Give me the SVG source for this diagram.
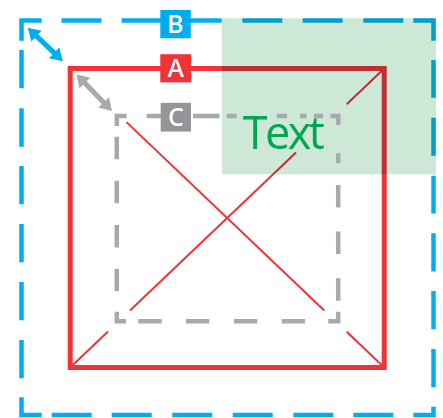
<svg xmlns="http://www.w3.org/2000/svg" width="443" height="418" viewBox="0 0 443 418">
<style>
.blue{fill:none;stroke:#00aeef;stroke-width:4.5;stroke-linecap:butt;stroke-linejoin:miter}
.red{fill:none;stroke:#ef3338;stroke-width:5;stroke-linejoin:miter}
.diag{fill:none;stroke:#ef3338;stroke-width:2}
.gray{fill:none;stroke:#a7a9ac;stroke-width:4.5;stroke-linecap:butt;stroke-linejoin:miter}
.lbl{font-family:"Open Sans","Noto Sans",sans-serif;font-weight:600;font-size:25px;fill:#ffffff;text-anchor:middle}
.big{font-family:"Open Sans","Noto Sans",sans-serif;font-size:45px;fill:#00a651}
</style>
<rect x="0" y="0" width="443" height="418" fill="#ffffff"/>
<g id="node-B">
<path class="blue" d="M21.5,40.7V20.5H41.7 M413.3,20.5H433.5V40.7 M433.5,406.7V415H413.3 M41.7,415H21.5V397.3"/>
<path class="blue" d="M61.5,20.5H101.5 M121.7,20.5H161.7 M181.7,20.5H221.7 M242.3,20.5H282.3 M302.7,20.5H342.7 M363.3,20.5H403.3
M433.5,60V97.7 M433.5,117.7V155.7 M433.5,175.7V213.5 M433.5,233.3V271.5 M433.5,291V329.3 M433.5,349V387.3
M51.7,415H91.7 M111.7,415H151.7 M172.3,415H212.3 M232.7,415H272.7 M293.3,415H333.3 M353.3,415H393.3
M21.5,50V88.3 M21.5,108.3V146.7 M21.5,166V204.3 M21.5,224V262.3 M21.5,282V320.3 M21.5,340V378.3"/>
<rect x="160.3" y="10" width="30.5" height="28.3" fill="#00aeef"/>
<text class="lbl" x="175.5" y="33.3">B</text>
</g>
<g id="node-A">
<rect class="red" x="70.2" y="68.5" width="314" height="299"/>
<path class="diag" d="M126.5,122.1L324.3,310.5 M346.7,331.8L384.2,367.5 M384.2,68.5L346.7,104.2 M296,152.5L130,310.5 M108,331.5L70.2,367.5"/>
<rect x="160.3" y="54.2" width="31" height="28.2" fill="#ef3338"/>
<text class="lbl" x="175.8" y="77.3">A</text>
</g>
<g id="highlight">
<rect x="221.7" y="18.3" width="214.3" height="156" fill="#cde8d6" style="mix-blend-mode:multiply"/>
</g>
<g id="node-C">
<path class="gray" d="M116.8,126V116H126.7 M330.5,116H338.2V125 M338.2,311.7V321.2H328.3 M126,321.2H116.8V311.7"/>
<path class="gray" d="M146.7,116H162 M193,116H219.5 M226.7,116H236.7 M276.7,116H287 M300,116H306.7 M314,116H323
M338.2,153.3V163.3 M338.2,185V207.5 M338.2,231.5V254 M338.2,278.3V300.7
M138.3,321.2H161.7 M186,321.2H209.3 M234,321.2H257.3 M281.7,321.2H305
M116.8,136.7V159.2 M116.8,180.8V203.3 M116.8,224.9V247.4 M116.8,269V291"/>
<rect x="160.7" y="102.8" width="30.3" height="28.8" fill="#939598"/>
<text class="lbl" x="175.9" y="126">C</text>
</g>
<g id="label-text">
<text class="big" x="242.8" y="149" textLength="82" lengthAdjust="spacing">Text</text>
</g>
<g id="connectors">
<polygon fill="#00aeef" transform="translate(27.8,27.8) rotate(43.6)" points="0,0 12,-7.5 12,-2.5 36.4,-2.5 36.4,-7.5 48.4,0 36.4,7.5 36.4,2.5 12,2.5 12,7.5"/>
<polygon fill="#a7a9ac" transform="translate(76.5,74.5) rotate(45.8)" points="0,0 12,-7.5 12,-2.5 38.9,-2.5 38.9,-7.5 50.9,0 38.9,7.5 38.9,2.5 12,2.5 12,7.5"/>
</g>
</svg>
